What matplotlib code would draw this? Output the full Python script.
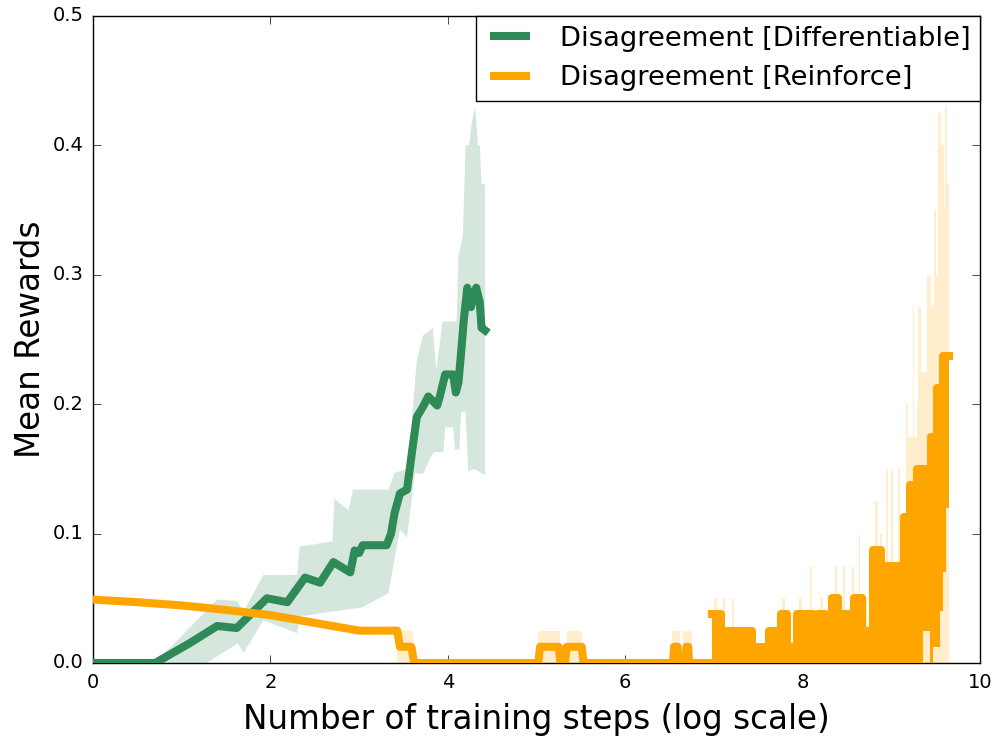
import matplotlib
matplotlib.use("Agg")
import matplotlib.pyplot as plt
import numpy as np

plt.style.use("classic")

# ---------------- data ----------------
# Disagreement [Differentiable] : mean curve
diff_x = [0.0, 0.70, 1.09, 1.40, 1.62, 1.96, 2.19, 2.39, 2.56, 2.71, 2.90, 2.95, 3.00, 3.04,
          3.31, 3.36, 3.40, 3.46, 3.54, 3.60, 3.65, 3.72, 3.78, 3.88, 3.91, 3.97, 4.06, 4.09,
          4.12, 4.15, 4.18, 4.22, 4.26, 4.32, 4.36, 4.38, 4.42]
diff_y = [0.0, 0.0, 0.0153, 0.0286, 0.027, 0.050, 0.047, 0.066, 0.062, 0.078, 0.070, 0.087,
          0.085, 0.091, 0.091, 0.100, 0.116, 0.131, 0.134, 0.165, 0.190, 0.198, 0.206, 0.199,
          0.206, 0.223, 0.223, 0.209, 0.217, 0.240, 0.265, 0.290, 0.275, 0.290, 0.279, 0.259,
          0.257]
# Differentiable : band upper edge
diff_up_x = [0.70, 1.40, 1.62, 1.70, 1.92, 2.30, 2.33, 2.52, 2.70, 2.72, 2.88, 2.93, 3.33,
             3.40, 3.55, 3.65, 3.72, 3.83, 3.87, 3.94, 4.10, 4.12, 4.17, 4.20, 4.24, 4.27,
             4.31, 4.34, 4.36, 4.38, 4.42]
diff_up_y = [0.0, 0.049, 0.048, 0.040, 0.068, 0.068, 0.090, 0.092, 0.094, 0.127, 0.118,
             0.134, 0.134, 0.147, 0.150, 0.234, 0.253, 0.259, 0.226, 0.264, 0.264, 0.314,
             0.330, 0.400, 0.400, 0.418, 0.430, 0.400, 0.400, 0.370, 0.370]
# Differentiable : band lower edge
diff_lo_x = [0.70, 1.28, 1.63, 1.70, 1.92, 2.30, 2.33, 3.04, 3.33, 3.46, 3.54, 3.63, 3.72,
             3.80, 3.84, 3.95, 3.97, 4.06, 4.08, 4.13, 4.15, 4.20, 4.23, 4.30, 4.42]
diff_lo_y = [0.0, 0.0, 0.015, 0.008, 0.033, 0.023, 0.036, 0.043, 0.054, 0.103, 0.097, 0.147,
             0.146, 0.158, 0.163, 0.163, 0.182, 0.182, 0.165, 0.165, 0.194, 0.194, 0.148,
             0.150, 0.145]

# Disagreement [Reinforce] : early part of the mean curve
reinf_x = [0.0, 0.5, 1.0, 1.5, 2.0, 2.5, 3.0, 3.43, 3.46, 3.59, 3.62, 5.02, 5.04, 5.25, 5.27,
           5.32, 5.34, 5.51, 5.53, 6.54, 6.55, 6.59, 6.60, 6.68, 6.69, 6.71, 6.72, 6.98]
reinf_y = [0.049, 0.047, 0.0445, 0.041, 0.037, 0.031, 0.025, 0.025, 0.0125, 0.0125, 0.0, 0.0,
           0.0125, 0.0125, 0.0, 0.0, 0.0125, 0.0125, 0.0, 0.0, 0.0125, 0.0125, 0.0, 0.0,
           0.0125, 0.0125, 0.0, 0.0]
# Reinforce : dense, oscillating late part (upper and lower envelope of the curve)
reinf_dense_x = [6.98, 7.08, 7.26, 7.29, 7.43, 7.62, 7.76, 7.82, 7.94, 8.03, 8.05, 8.12, 8.17,
                 8.25, 8.33, 8.40, 8.58, 8.67, 8.79, 8.88, 9.12, 9.14, 9.21, 9.29, 9.36, 9.44,
                 9.45, 9.47, 9.52, 9.55, 9.58, 9.62, 9.65]
reinf_dense_hi = [0.0375, 0.025, 0.0125, 0.025, 0.0125, 0.025, 0.0375, 0.0125, 0.0375, 0.025,
                  0.0375, 0.0125, 0.0375, 0.025, 0.05, 0.0375, 0.05, 0.025, 0.0875, 0.075,
                  0.0625, 0.1125, 0.1375, 0.15, 0.15, 0.15, 0.175, 0.175, 0.2125, 0.2125,
                  0.2375, 0.2375, 0.2375]
reinf_dense_lo = [0.0, 0.0, 0.0, 0.0, 0.0, 0.0, 0.0, 0.0, 0.0, 0.0, 0.0, 0.0, 0.0, 0.0, 0.0,
                  0.0, 0.0, 0.0, 0.0, 0.0, 0.0, 0.0, 0.0, 0.0, 0.025, 0.0, 0.0, 0.0125, 0.0125,
                  0.04, 0.07, 0.12, 0.12]
# Reinforce : band upper edge (lower edge is 0)
reinf_band_x = [3.43, 3.61, 5.02, 5.27, 5.34, 5.51, 6.53, 6.62, 6.65, 6.75, 6.98, 7.00, 7.03,
                7.08, 7.10, 7.13, 7.20, 7.23, 7.26, 7.29, 7.43, 7.62, 7.76, 7.77, 7.80, 7.82,
                7.94, 7.96, 7.99, 8.03, 8.05, 8.08, 8.11, 8.12, 8.17, 8.20, 8.23, 8.25, 8.33,
                8.37, 8.39, 8.40, 8.45, 8.48, 8.56, 8.58, 8.63, 8.65, 8.67, 8.70, 8.73, 8.79,
                8.82, 8.85, 8.87, 8.89, 8.94, 8.96, 9.00, 9.02, 9.07, 9.10, 9.12, 9.14, 9.17,
                9.19, 9.24, 9.26, 9.29, 9.30, 9.33, 9.40, 9.45, 9.48, 9.50, 9.53, 9.56, 9.59,
                9.60, 9.63, 9.65]
reinf_band_hi = [0.025, 0.0, 0.025, 0.0, 0.025, 0.0, 0.025, 0.0, 0.025, 0.0, 0.0375, 0.05,
                 0.0375, 0.025, 0.05, 0.025, 0.05, 0.025, 0.0125, 0.025, 0.0125, 0.025, 0.0375,
                 0.05, 0.0375, 0.0125, 0.0375, 0.05, 0.0375, 0.025, 0.0375, 0.075, 0.0375,
                 0.0125, 0.0375, 0.05, 0.0375, 0.025, 0.05, 0.075, 0.05, 0.0375, 0.075, 0.0375,
                 0.075, 0.05, 0.1, 0.05, 0.025, 0.05, 0.025, 0.0875, 0.125, 0.0875, 0.1, 0.075,
                 0.15, 0.075, 0.15, 0.075, 0.15, 0.075, 0.0625, 0.1125, 0.2, 0.175, 0.275,
                 0.175, 0.2, 0.275, 0.225, 0.3, 0.275, 0.35, 0.3, 0.425, 0.4, 0.35, 0.43, 0.37,
                 0.0]

labels = ["Disagreement [Differentiable]", "Disagreement [Reinforce]"]
x_ticks = [0, 2, 4, 6, 8, 10]
y_ticks = [0.0, 0.1, 0.2, 0.3, 0.4, 0.5]

# ---------------- drawing ----------------
GREEN = "seagreen"
ORANGE = "orange"
LW = 5.8

fig = plt.figure(figsize=(9.98, 7.36), dpi=100, facecolor="white")
ax = fig.add_axes([0.0932, 0.0992, 0.8888, 0.8791])

# green band + line
ax.fill(np.concatenate([diff_up_x, diff_lo_x[::-1]]),
        np.concatenate([diff_up_y, diff_lo_y[::-1]]),
        color=GREEN, alpha=0.2, lw=0, zorder=1)
ax.plot(diff_x, diff_y, color=GREEN, lw=LW, label=labels[0], zorder=3,
        solid_joinstyle="round")

# orange band
ax.fill_between(reinf_band_x, 0, reinf_band_hi, step="post", color=ORANGE, alpha=0.2,
                lw=0, zorder=2)
# orange curve
ax.plot(reinf_x, reinf_y, color=ORANGE, lw=LW, label=labels[1], zorder=4,
        solid_joinstyle="round")
ax.fill_between(reinf_dense_x, reinf_dense_lo, reinf_dense_hi, step="post", color=ORANGE,
                lw=0, zorder=4)
ax.plot(reinf_dense_x, reinf_dense_hi, color=ORANGE, lw=LW, drawstyle="steps-post",
        solid_joinstyle="round", zorder=4)

ax.set_xlim(0, 10)
ax.set_ylim(0, 0.5)
ax.set_xticks(x_ticks)
ax.set_yticks(y_ticks)
ax.set_yticklabels(["%.1f" % v for v in y_ticks])
ax.tick_params(labelsize=14, direction="in", length=6, pad=7, top=True, right=True)
ax.set_xlabel("Number of training steps (log scale)", fontsize=23.5, labelpad=8)
ax.set_ylabel("Mean Rewards", fontsize=23.5, labelpad=4)

leg = ax.legend(loc="upper right", fontsize=19.7, borderaxespad=0, handlelength=1.75,
                handletextpad=0.95, labelspacing=0.5, borderpad=0.35, fancybox=False,
                framealpha=1)
leg.get_frame().set_edgecolor("black")
leg.get_frame().set_linewidth(1.0)

fig.savefig("out.png", dpi=100, facecolor="white")
